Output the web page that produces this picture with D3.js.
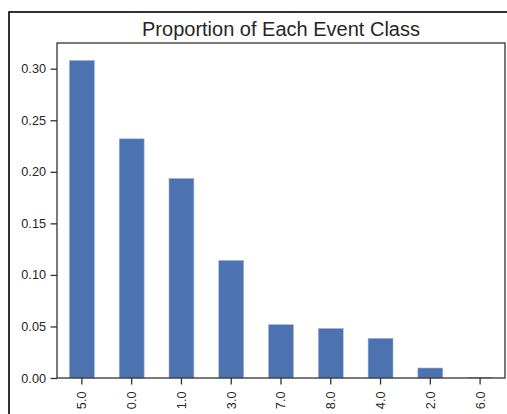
<!DOCTYPE html>
<html>
<head>
<meta charset="utf-8">
<script src="https://cdn.jsdelivr.net/npm/d3@7"></script>
<style>
  html, body { margin: 0; padding: 0; background: #fff; }
  svg { display: block; }
</style>
</head>
<body>
<svg id="chart" width="507" height="414"></svg>
<script>
// Event classes, ordered by share
const categories = ["5.0", "0.0", "1.0", "3.0", "7.0", "8.0", "4.0", "2.0", "6.0"];
const proportions = [0.308, 0.232, 0.1935, 0.114, 0.0517, 0.048, 0.0385, 0.0097, 0.0003];
const yTicks = [0.00, 0.05, 0.10, 0.15, 0.20, 0.25, 0.30];
const title = "Proportion of Each Event Class";

const svg = d3.select("#chart");
const W = 507, H = 414;
const margin = { top: 43, right: 2, bottom: 36, left: 57 };
const innerW = W - margin.left - margin.right;
const innerH = H - margin.top - margin.bottom;

// Outer figure frame
svg.append("rect")
  .attr("x", 9).attr("y", 12)
  .attr("width", 510).attr("height", 420)
  .attr("fill", "none").attr("stroke", "#000").attr("stroke-width", 1.6);

const g = svg.append("g").attr("transform", `translate(${margin.left},${margin.top})`);

const x = d3.scaleBand().domain(categories).range([0, innerW]).paddingInner(0.5).paddingOuter(0.25);
const yMax = d3.max(proportions) * 1.055;
const y = d3.scaleLinear().domain([0, yMax]).range([innerH, 0]);

// Bars
g.selectAll("rect.bar")
  .data(categories.map((c, i) => ({ c, v: proportions[i] })))
  .join("rect")
  .attr("class", "bar")
  .attr("x", d => x(d.c))
  .attr("y", d => y(d.v))
  .attr("width", x.bandwidth())
  .attr("height", d => innerH - y(d.v))
  .attr("fill", "#4C72B0")
  .attr("stroke", "#9fb4d8")
  .attr("stroke-width", 0.6);

const fontFam = "'Liberation Sans', Arial, sans-serif";
const axisColor = "#333";

// Y axis
const yAxis = g.append("g")
  .call(d3.axisLeft(y).tickValues(yTicks).tickFormat(d3.format(".2f")).tickSize(6.5).tickPadding(4.5));
// X axis
const xAxis = g.append("g")
  .attr("transform", `translate(0,${innerH})`)
  .call(d3.axisBottom(x).tickSize(6.5).tickPadding(4));

[yAxis, xAxis].forEach(a => {
  a.select(".domain").remove();
  a.selectAll(".tick line").attr("stroke", axisColor).attr("stroke-width", 1.3);
  a.selectAll(".tick text").attr("fill", "#262626").style("font-family", fontFam).style("font-size", "12.7px");
});

xAxis.selectAll(".tick text")
  .attr("transform", "rotate(-90)")
  .attr("text-anchor", "end")
  .attr("dy", "0.35em")
  .attr("x", -13.5)
  .attr("y", 0);

// Spines
g.append("rect")
  .attr("x", 0).attr("y", 0)
  .attr("width", innerW).attr("height", innerH)
  .attr("fill", "none").attr("stroke", axisColor).attr("stroke-width", 1.3);

// Title
svg.append("text")
  .attr("x", margin.left + innerW / 2)
  .attr("y", 36)
  .attr("text-anchor", "middle")
  .attr("fill", "#262626")
  .style("font-family", fontFam)
  .style("font-size", "20px")
  .text(title);
</script>
</body>
</html>
